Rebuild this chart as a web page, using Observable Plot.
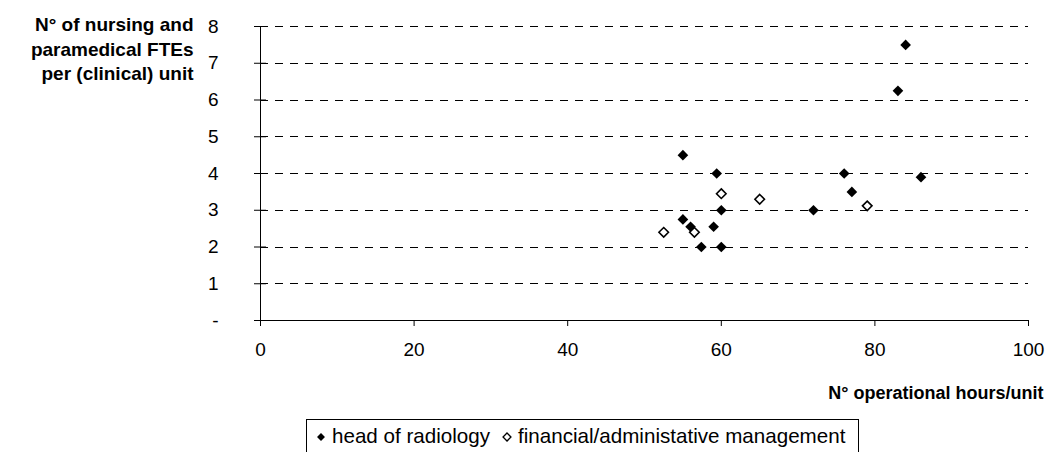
<!DOCTYPE html>
<html>
<head>
<meta charset="utf-8">
<script src="https://cdn.jsdelivr.net/npm/d3@7"></script>
<script src="https://cdn.jsdelivr.net/npm/@observablehq/plot@0.6"></script>
<style>
  html, body { margin: 0; padding: 0; background: #fff; width: 1056px; height: 452px; overflow: hidden; }
  body { position: relative; font-family: "Liberation Sans", Arial, sans-serif; }
  #legend {
    position: absolute; left: 306px; top: 419px; width: 551px; height: 40px;
    border: 1px solid #000; box-sizing: content-box;
    font-size: 20.6px; line-height: 24px; color: #000;
    padding-top: 4px; white-space: nowrap;
  }
  #legend .item { display: inline-flex; align-items: center; }
  #legend svg { display: block; }
</style>
</head>
<body>
<div id="chart"></div>
<div id="legend"></div>
<script>
// Operational hours per unit (x) and nursing/paramedical FTEs per unit (y)
const radiologyHours = [55, 59.4, 60, 55, 56, 59, 57.4, 60, 76, 77, 72, 83, 84, 86];
const radiologyFTEs  = [4.5, 4, 3, 2.75, 2.55, 2.55, 2, 2, 4, 3.5, 3, 6.25, 7.5, 3.9];
const financeHours   = [52.5, 56.5, 60, 65, 79];
const financeFTEs    = [2.4, 2.4, 3.45, 3.3, 3.12];

const seriesNames = ["head of radiology", "financial/administative management"];
const xTicks = [0, 20, 40, 60, 80, 100];
const yTicks = [0, 1, 2, 3, 4, 5, 6, 7, 8];
const yTickLabels = ["-", "1", "2", "3", "4", "5", "6", "7", "8"];
const gridLines = [1, 2, 3, 4, 5, 6, 7, 8];
const xTitle = "N° operational hours/unit";
const yTitle = "N° of nursing and\nparamedical FTEs\nper (clinical) unit";

const radiology = radiologyHours.map((h, i) => ({hours: h, ftes: radiologyFTEs[i]}));
const finance = financeHours.map((h, i) => ({hours: h, ftes: financeFTEs[i]}));

const font = "'Liberation Sans', Arial, sans-serif";

const chart = Plot.plot({
  width: 1056,
  height: 410,
  marginLeft: 260,
  marginRight: 28,
  marginTop: 26,
  marginBottom: 90,
  style: {fontFamily: font, fontSize: "19px", color: "#000", background: "#fff", overflow: "visible"},
  x: {domain: [0, 100]},
  y: {domain: [0, 8]},
  marks: [
    // dashed horizontal gridlines
    Plot.ruleY(gridLines, {stroke: "#000", strokeWidth: 1, strokeDasharray: "8,7", shapeRendering: "crispEdges"}),
    // axis lines
    Plot.ruleY([0], {stroke: "#000", strokeWidth: 1, shapeRendering: "crispEdges"}),
    Plot.ruleX([0], {stroke: "#000", strokeWidth: 1, shapeRendering: "crispEdges"}),
    // y ticks crossing the axis line
    Plot.axisY({ticks: yTicks, tickSize: 12, dx: 6, tickFormat: () => "", label: null, stroke: "#000", strokeOpacity: 1}),
    Plot.axisY({ticks: yTicks, tickSize: 0, tickPadding: 42, tickFormat: d => yTickLabels[yTicks.indexOf(d)], label: null, fontSize: 19}),
    // x ticks below the axis line
    Plot.axisX({ticks: xTicks, tickSize: 6, tickPadding: 16, label: null, fontSize: 19, stroke: "#000", strokeOpacity: 1}),
    // axis titles
    Plot.text([yTitle], {frameAnchor: "top-left", dx: -67, dy: -13, textAnchor: "end", lineAnchor: "top",
      lineHeight: 1.3, fontWeight: "bold", fontSize: 19, fill: "#000"}),
    Plot.text([xTitle], {frameAnchor: "bottom-right", dx: 15, dy: 66, textAnchor: "end", lineAnchor: "top",
      fontWeight: "bold", fontSize: 18, fill: "#000"}),
    // data points
    Plot.dot(finance, {x: "hours", y: "ftes", symbol: "diamond2", r: 4.3, fill: "#fff", stroke: "#000", strokeWidth: 1.6}),
    Plot.dot(radiology, {x: "hours", y: "ftes", symbol: "diamond2", r: 4.8, fill: "#000", stroke: "none"})
  ]
});
document.getElementById("chart").appendChild(chart);

// legend below the chart
const legend = d3.select("#legend");
const diamond = d3.symbol(d3.symbolDiamond2, 40)();
const items = [
  {name: seriesNames[0], fill: "#000", stroke: "none", ml: 8},
  {name: seriesNames[1], fill: "#fff", stroke: "#000", ml: 11}
];
for (const it of items) {
  const span = legend.append("span").attr("class", "item").style("margin-left", it.ml + "px");
  const svg = span.append("svg").attr("width", 12).attr("height", 14).style("margin-right", "5px").style("margin-top", "2px");
  svg.append("path").attr("d", diamond).attr("transform", "translate(6,7)")
    .attr("fill", it.fill).attr("stroke", it.stroke).attr("stroke-width", 1.3);
  span.append("span").text(it.name);
}
</script>
</body>
</html>
